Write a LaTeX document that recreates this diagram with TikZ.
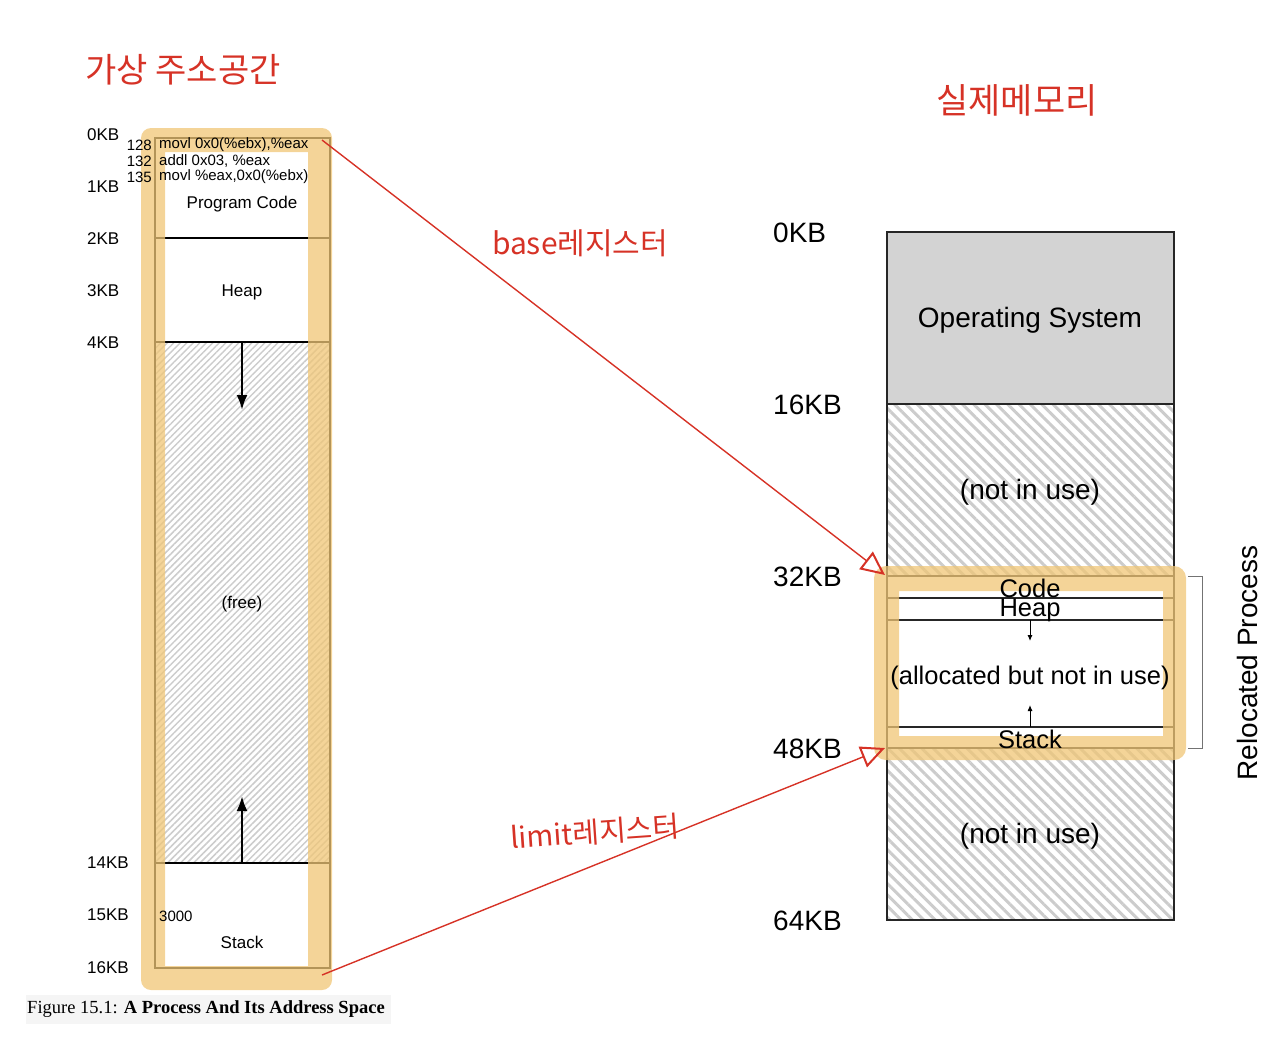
\documentclass[tikz,border=0pt]{standalone}
\usepackage{fontspec}
\setmainfont{Liberation Sans}
\newfontfamily\capfont{Liberation Serif}
\newfontfamily\kofont{Noto Sans CJK KR}
\usetikzlibrary{positioning, calc, arrows.meta, patterns.meta}

\definecolor{hlorange}{RGB}{240,198,118}
\definecolor{penred}{RGB}{214,50,38}
\definecolor{osgray}{RGB}{211,211,211}

\tikzset{
  small/.style={font=\fontsize{17}{17}\selectfont, inner sep=0pt},
  code/.style={font=\fontsize{15}{15}\selectfont, inner sep=0pt},
  big/.style={font=\fontsize{28}{28}\selectfont, inner sep=0pt},
  mid/.style={font=\fontsize{25.5}{25.5}\selectfont, inner sep=0pt},
  pen/.style={penred, font=\kofont, inner sep=0pt},
  hatchL/.style={pattern={Lines[angle=45, distance=4.6pt, line width=1.5pt]}, pattern color=black!20},
  hatchR/.style={pattern={Lines[angle=-45, distance=8pt, line width=3pt]}, pattern color=black!20},
  frame/.style={fill=hlorange, fill opacity=0.75, even odd rule},
  redarrow/.style={draw=penred, line width=1.4pt, -{Triangle[open, length=24pt, width=22pt, line width=2pt]}},
}

\begin{document}
\begin{tikzpicture}[x=1pt, y=-1pt]
  \useasboundingbox (0,0) rectangle (1280,1037);

  % virtual address space
  \fill[hatchL] (155,342) rectangle (330,863);
  \draw[line width=1.5pt] (155,138) rectangle (330,968);
  \draw[line width=1.5pt] (155,238) -- (330,238);
  \draw[line width=1.5pt] (155,342) -- (330,342);
  \draw[line width=1.5pt] (155,863) -- (330,863);
  \draw[line width=2.5pt, -{Latex[length=15pt, width=11pt]}] (242,343) -- (242,410);
  \draw[line width=2.5pt, -{Latex[length=15pt, width=11pt]}] (242,863) -- (242,796);
  \fill[frame] [rounded corners=10pt] (141,128) rectangle (332,990) [sharp corners] (165,152) rectangle (308,966);

  \foreach \kb/\y in {0/135, 1/187, 2/239, 3/291, 4/343, 14/863, 15/915, 16/968}
    \node[small, anchor=west] (kbL\kb) at (87,\y) {\kb KB};

  \node[code, anchor=east] (n128) at (152,145) {128};
  \node[code, anchor=east] (n132) at (152,161) {132};
  \node[code, anchor=east] (n135) at (152,177) {135};
  \node[code, anchor=west] (c128) at (159,145) {movl 0x0(\%ebx),\%eax};
  \node[code, anchor=west] (c132) at (159,161) {addl 0x03, \%eax};
  \node[code, anchor=west] (c135) at (159,177) {movl \%eax,0x0(\%ebx)};
  \node[small] (pcode) at (242,204) {Program Code};
  \node[small] (heapL) at (242,292) {Heap};
  \node[small] (free) at (242,604) {(free)};
  \node[code, anchor=west] (sp) at (159,916) {3000};
  \node[small] (stackL) at (242,942) {Stack};

  % physical memory
  \fill[osgray] (887,232) rectangle (1174,404);
  \fill[hatchR] (887,404) rectangle (1174,576);
  \fill[hatchR] (887,748) rectangle (1174,920);
  \draw[line width=1.5pt, black!85] (887,232) rectangle (1174,920);
  \foreach \y in {404, 576, 598, 620, 727, 748}
    \draw[line width=1.3pt, black!85] (887,\y) -- (1174,\y);
  \draw[line width=1pt, -{Latex[length=6pt, width=5pt]}] (1030,620) -- (1030,641);
  \draw[line width=1pt, -{Latex[length=6pt, width=5pt]}] (1030,727) -- (1030,705);
  \fill[frame] [rounded corners=12pt] (874,566) rectangle (1186,760) [sharp corners] (899,591) rectangle (1163,736);

  \foreach \kb/\y in {0/233, 16/405, 32/577, 48/749, 64/921}
    \node[big, anchor=west] (kbR\kb) at (773,\y) {\kb KB};

  \node[big] (os) at (1030,320) {Operating System};
  \node[big] (free1) at (1030,492) {(not in use)};
  \node[big] (free2) at (1030,836) {(not in use)};
  \node[mid] (codeR) at (1030,588) {Code};
  \node[mid] (heapR) at (1030,610) {Heap};
  \node[mid] (alloc) at (1030,678) {(allocated but not in use)};
  \node[mid] (stackR) at (1030,739) {Stack};

  \coordinate (brtop) at (1188,576);
  \coordinate (brbot) at (1188,748);
  \draw[line width=1pt, black!55] (brtop) -- ++(14,0) |- (brbot);
  \node[big, rotate=90] (reloc) at (1247,663) {Relocated Process};

  % caption
  \fill[black!4] (26,995) rectangle (391,1024);
  \node[inner sep=0pt, font=\capfont\fontsize{18.5}{18.5}\selectfont] (cap) at (206,1009) {Figure 15.1: \textbf{A Process And Its Address Space}};

  % handwritten notes
  \coordinate (basefrom) at (322,140);
  \coordinate (baseto) at (885,575);
  \coordinate (limfrom) at (322,975);
  \coordinate (limto) at (885,748);
  \path[redarrow] (basefrom) -- (baseto);
  \path[redarrow] (limfrom) -- (limto);
  \node[pen, font=\kofont\fontsize{34}{34}\selectfont] (vas) at (183,70) {가상 주소공간};
  \node[pen, font=\kofont\fontsize{35}{35}\selectfont] (phys) at (1017,100) {실제메모리};
  \node[pen, font=\kofont\fontsize{30}{30}\selectfont] (basereg) at (580,243) {base레지스터};
  \node[pen, font=\kofont\fontsize{29}{29}\selectfont, rotate=4] (limreg) at (595,832) {limit레지스터};
\end{tikzpicture}
\end{document}
